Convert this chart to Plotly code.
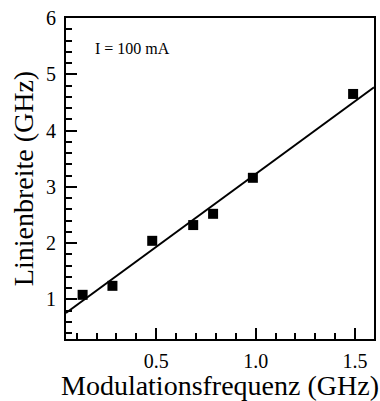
import plotly.graph_objects as go

# Measured linewidth vs. modulation frequency
mod_freq_ghz = [0.13, 0.28, 0.48, 0.686, 0.786, 0.986, 1.49]
linewidth_ghz = [1.08, 1.24, 2.04, 2.32, 2.52, 3.16, 4.65]

# Linear fit parameters (slope in GHz/GHz, intercept in GHz)
fit_slope = 2.59
fit_intercept = 0.637

x_range = [0.0465, 1.595]
y_range = [0.295, 6.0]

fit_x = x_range
fit_y = [fit_intercept + fit_slope * x for x in fit_x]

FONT = "Liberation Serif, Times New Roman, serif"

fig = go.Figure()
fig.add_trace(go.Scatter(
    x=fit_x, y=fit_y, mode="lines",
    line=dict(color="black", width=1.8),
    showlegend=False, cliponaxis=True,
))
fig.add_trace(go.Scatter(
    x=mod_freq_ghz, y=linewidth_ghz, mode="markers",
    marker=dict(symbol="square", size=10, color="black", line=dict(width=0)),
    showlegend=False, cliponaxis=False,
))

fig.add_annotation(
    x=0.18, y=5.46, xref="x", yref="y", text="I = 100 mA",
    showarrow=False, xanchor="left", yanchor="middle",
    font=dict(family=FONT, size=16, color="black"),
)

fig.update_layout(
    width=380, height=401,
    margin=dict(l=66, r=4, t=18, b=62),
    paper_bgcolor="white", plot_bgcolor="white",
    font=dict(family=FONT, color="black"),
    xaxis=dict(
        range=x_range, tickvals=[0.5, 1.0, 1.5], ticktext=["0.5", "1.0", "1.5"],
        ticks="inside", ticklen=11, tickwidth=1.5, tickcolor="black",
        minor=dict(dtick=0.1, tick0=0, ticks="inside", ticklen=6, tickwidth=1.5, tickcolor="black"),
        showline=True, linecolor="black", linewidth=2, mirror=True,
        showgrid=False, zeroline=False,
        ticklabelstandoff=3,
        tickfont=dict(family=FONT, size=20, color="black"),
        title=dict(text="Modulationsfrequenz (GHz)", font=dict(family=FONT, size=28, color="black"), standoff=2),
    ),
    yaxis=dict(
        range=y_range, tickvals=[1, 2, 3, 4, 5, 6],
        ticks="inside", ticklen=11, tickwidth=1.5, tickcolor="black",
        minor=dict(dtick=0.2, tick0=0, ticks="inside", ticklen=6, tickwidth=1.5, tickcolor="black"),
        showline=True, linecolor="black", linewidth=2, mirror=True,
        showgrid=False, zeroline=False,
        ticklabelstandoff=4,
        tickfont=dict(family=FONT, size=20, color="black"),
        title=dict(text="Linienbreite (GHz)", font=dict(family=FONT, size=28, color="black"), standoff=4),
    ),
)

fig.write_html("out.html")
